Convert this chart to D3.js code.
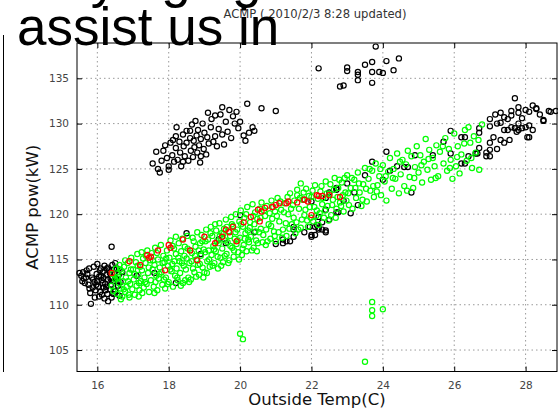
<!DOCTYPE html>
<html>
<head>
<meta charset="utf-8">
<script src="https://cdn.jsdelivr.net/npm/d3@7"></script>
<style>
  body { margin: 0; background: #fff; }
  svg { display: block; }
</style>
</head>
<body>
<script>
// tick values
const xTicks = [16, 18, 20, 22, 24, 26, 28];
const yTicks = [105, 110, 115, 120, 125, 130, 135];

const chartTitle = "ACMP ( 2010/2/3 8:28 updated)";
const xLabel = "Outside Temp(C)";
const yLabel = "ACMP pow(kW)";

// [temp, kW]
const blackPts = [
  // left group
  [15.5,113.5],[15.55,113.2],[15.6,113.6],[15.62,112.9],[15.7,113.8],[15.75,112.2],[15.78,111.8],[15.8,111.3],[15.82,110.1],[15.85,113.0],
  [15.9,114.2],[15.92,112.5],[15.95,111.6],[15.98,113.4],[16.0,114.5],[16.02,112.0],[16.05,113.1],[16.05,110.9],[16.08,111.4],[16.1,114.0],
  [16.12,112.7],[16.15,113.6],[16.18,111.9],[16.2,110.7],[16.2,114.3],[16.22,112.3],[16.25,113.3],[16.28,111.2],[16.3,114.1],[16.3,112.8],
  [16.33,113.8],[16.35,111.7],[16.38,112.2],[16.4,113.0],[16.4,110.8],[16.42,114.4],[16.45,112.6],[16.48,113.5],[16.5,111.5],[16.52,112.9],
  [16.55,114.0],[16.58,112.1],[16.6,113.3],[16.62,111.0],[16.65,112.5],[15.65,112.4],[15.88,112.8],[16.0,112.6],[16.1,113.2],[16.25,112.0],
  [16.35,113.5],[16.15,112.4],[15.72,113.4],[16.45,111.2],[16.4,116.4],[16.5,114.6],[16.7,113.6],[16.3,110.4],
  [15.58,112.6],[15.68,113.0],[15.77,114.0],[15.87,111.9],[15.97,112.2],[16.07,113.8],[16.17,113.0],[16.27,114.0],[16.37,112.9],[16.47,113.9],
  [16.57,112.6],[16.13,111.1],[15.93,110.8],[16.23,111.6],
  // upper middle group
  [17.55,125.6],[17.65,126.9],[17.7,125.0],[17.75,124.6],[17.85,127.0],[17.9,127.6],[17.95,126.2],[18.0,125.3],[18.0,124.9],[18.05,127.9],
  [18.1,126.5],[18.12,128.2],[18.15,125.8],[18.2,127.3],[18.22,129.6],[18.25,126.0],[18.3,128.0],[18.32,126.8],[18.35,125.3],[18.4,128.8],
  [18.42,127.5],[18.45,126.4],[18.5,129.2],[18.5,127.9],[18.55,125.9],[18.6,128.4],[18.62,127.0],[18.65,129.9],[18.68,126.3],[18.7,128.1],
  [18.72,127.4],[18.75,130.3],[18.78,128.7],[18.8,126.8],[18.82,129.3],[18.85,127.6],[18.88,125.7],[18.9,128.3],[18.95,130.0],[18.98,127.2],
  [19.0,129.0],[19.05,126.6],[19.08,128.5],[19.1,131.2],[19.12,127.8],[19.18,129.6],[19.2,130.5],[19.25,128.0],[19.3,130.9],[19.35,127.5],
  [19.4,129.4],[19.45,131.0],[19.5,128.8],[19.55,127.7],[19.6,130.2],[19.65,129.1],[19.7,131.5],[19.75,128.4],[19.8,130.8],[19.85,130.0],
  [19.9,131.3],[19.95,129.5],[20.0,130.2],[20.1,128.7],[20.15,128.1],[20.2,132.2],[20.25,129.0],[20.35,129.6],[20.4,129.2],[20.6,131.7],
  [21.0,131.4],[19.5,131.8],[18.6,129.2],[18.4,125.8],[18.9,126.4],[19.3,128.6],[18.2,128.6],[17.8,125.9],
  // top group
  [22.2,136.1],[23.8,138.5],[23.0,136.2],[23.0,135.8],[23.3,135.7],[23.5,136.5],[23.7,136.8],[23.7,135.7],[24.1,136.9],[24.3,135.9],
  [23.9,135.7],[24.0,135.6],[24.45,137.2],[23.3,135.4],[23.3,134.8],[22.8,134.1],[22.9,134.2],[23.7,134.5],
  // in the band
  [18.2,112.4],[18.5,117.9],[20.0,119.9],[19.6,116.8],[17.1,113.2],[17.6,113.5],[18.9,115.6],[19.4,117.2],[20.4,118.0],
  [21.0,116.7],[21.2,116.8],[21.4,117.0],[21.2,117.2],[21.3,117.0],[21.5,117.5],[21.8,118.0],[22.0,117.7],[22.1,118.6],[22.2,118.3],
  [22.3,118.3],[22.4,118.0],[22.2,119.7],[21.8,121.6],[22.0,121.4],[22.4,121.8],[21.5,118.3],[21.95,118.6],[22.0,117.5],[22.1,117.7],
  [22.3,119.1],[22.4,120.5],[22.7,120.2],[22.75,120.2],[23.1,120.1],[22.5,119.4],[22.15,118.8],[22.2,118.5],[22.4,118.2],[21.5,118.6],
  [22.5,122.4],[22.7,122.7],[22.7,122.9],[23.2,122.4],[23.0,123.4],[23.5,124.3],[23.7,125.8],[24.1,126.9],[24.0,123.8],[24.2,124.8],
  [24.4,125.3],[24.6,125.2],[24.7,125.2],[24.9,126.5],[25.4,126.5],[25.9,126.7],[26.3,125.6],[26.6,126.7],[27.0,126.4],[26.2,125.6],
  [26.2,128.5],[26.7,129.0],[25.9,129.2],[25.7,128.0],[26.3,128.5],[27.2,127.2],[24.8,122.4],[23.3,121.0],[22.9,121.5],
  // right group
  [27.7,132.8],[28.65,131.4],[28.3,131.6],[28.1,131.3],[27.8,131.2],[27.6,130.9],[27.4,130.7],[27.0,130.5],[26.7,129.5],[27.0,129.7],
  [27.3,130.1],[27.4,129.3],[27.8,129.3],[28.0,129.6],[28.2,129.3],[28.5,130.4],[28.85,131.4],[28.1,129.8],[27.0,127.9],[27.55,128.2],
  [28.05,128.5],[27.7,129.5],[27.1,128.5],[27.3,128.2],[27.0,127.1],[26.4,126.4],[26.65,126.7],[26.9,126.8],[26.7,127.3],[27.3,131.2],
  [28.0,131.5],[27.8,131.8],[28.3,131.7],[27.6,129.6],[27.5,129.3],[27.9,129.5],[27.8,130.0],[27.2,130.0],[28.7,131.3],[28.5,130.3],
  [28.1,128.5],[27.75,129.1],[27.4,127.9],[26.9,126.4],[27.5,130.5],[28.4,131.0],[27.9,130.6],[27.15,131.0],[28.2,132.0],[27.6,131.4]
];

const redPts = [
  [16.4,113.5],[16.9,114.8],[17.2,114.4],[17.4,115.5],[17.45,115.2],[17.5,115.3],[17.7,116.0],[18.0,116.6],[18.05,116.3],[18.4,117.2],
  [18.6,116.0],[19.0,117.5],[19.3,116.8],[19.5,117.5],[19.6,118.3],[19.7,118.0],[19.8,118.6],[20.1,119.1],[20.3,119.7],[20.5,120.5],
  [20.55,119.2],[20.6,120.3],[20.7,120.7],[20.9,120.8],[21.0,121.0],[21.1,121.2],[21.3,121.2],[21.35,121.4],[21.6,121.3],[21.8,121.6],
  [21.9,121.4],[22.0,119.9],[22.15,122.1],[22.2,122.0],[22.3,122.0],[22.5,122.1],[22.8,121.9],[18.8,114.9],[19.9,117.0],[17.9,113.8]
];

const greenPts = [
  [16.4,112.1],[16.42,113.4],[16.45,111.5],[16.5,112.8],[16.52,114.0],[16.55,111.2],[16.58,113.1],[16.6,112.4],[16.62,114.4],[16.65,111.8],
  [16.68,113.7],[16.7,110.9],[16.72,112.6],[16.75,114.2],[16.78,111.4],[16.8,113.0],[16.82,112.0],[16.85,114.6],[16.88,111.1],[16.9,113.5],
  [16.92,112.3],[16.95,115.2],[16.98,111.7],
  [16.56,112.9],[16.64,113.9],[16.74,111.7],[16.86,112.6],[16.94,113.9],[16.66,110.6],[16.78,114.9],[16.9,110.8],
  [17.0,113.9],[17.02,112.8],[17.05,111.1],[17.08,114.7],[17.1,112.1],[17.12,115.6],[17.15,113.3],[17.18,111.6],[17.2,114.2],[17.22,112.6],
  [17.25,113.8],[17.28,115.1],[17.3,111.9],[17.32,113.0],[17.35,114.6],[17.38,112.3],[17.4,116.0],[17.42,113.5],[17.45,111.4],[17.48,114.9],
  [17.5,112.7],
  [17.04,113.4],[17.13,114.3],[17.17,112.4],[17.26,111.3],[17.34,112.5],[17.36,115.4],[17.44,114.1],[17.24,115.8],[17.16,110.9],
  [17.52,115.7],[17.55,113.9],[17.58,112.0],[17.6,114.4],[17.62,116.3],[17.65,113.2],[17.68,111.6],[17.7,115.0],[17.72,112.9],[17.75,114.1],
  [17.78,116.6],[17.8,113.6],[17.82,112.2],[17.85,115.4],[17.88,114.7],[17.9,111.8],[17.92,113.0],[17.95,116.0],[17.98,114.3],
  [17.56,114.9],[17.63,112.5],[17.67,115.7],[17.74,113.4],[17.83,114.6],[17.87,112.8],[17.93,115.1],[17.97,112.3],[17.6,111.3],
  [18.0,112.5],[18.02,115.2],[18.05,117.1],[18.08,113.7],[18.1,114.5],[18.12,112.0],[18.15,116.2],[18.18,113.2],[18.2,115.6],[18.22,114.0],
  [18.25,112.7],[18.28,116.8],[18.3,114.8],[18.32,113.5],[18.35,115.9],[18.38,117.3],[18.4,112.4],[18.42,114.3],[18.45,116.4],[18.48,113.9],
  [18.04,113.9],[18.11,116.5],[18.16,114.8],[18.24,113.0],[18.27,115.2],[18.34,112.1],[18.37,114.6],[18.44,115.4],[18.46,112.7],[18.2,117.5],
  [18.5,115.1],[18.52,117.6],[18.55,113.0],[18.58,114.6],[18.6,116.0],[18.62,112.8],[18.65,115.7],[18.68,114.0],[18.7,117.0],[18.72,113.6],
  [18.75,116.4],[18.78,115.0],[18.8,118.0],[18.82,114.4],[18.85,113.3],[18.88,116.8],[18.9,115.4],[18.92,117.7],[18.95,114.1],[18.98,116.1],
  [18.53,116.2],[18.57,112.5],[18.64,114.8],[18.67,117.4],[18.74,115.4],[18.77,113.1],[18.84,116.0],[18.87,114.5],[18.94,117.0],[18.97,113.0],
  [19.0,113.6],[19.02,115.8],[19.05,118.3],[19.08,114.8],[19.1,117.2],[19.12,116.0],[19.15,114.2],[19.18,118.6],[19.2,115.5],[19.22,117.6],
  [19.25,116.5],[19.28,114.6],[19.3,118.9],[19.32,115.9],[19.35,117.0],[19.38,114.0],[19.4,116.8],[19.42,119.0],[19.45,115.2],[19.48,117.9],
  [19.03,117.0],[19.07,113.5],[19.13,115.0],[19.17,117.9],[19.23,114.3],[19.27,116.1],[19.33,118.2],[19.37,115.3],[19.43,117.6],[19.47,114.3],
  [19.5,116.2],[19.52,114.7],[19.55,118.4],[19.58,117.1],[19.6,119.4],[19.62,115.6],[19.65,116.9],[19.68,118.1],[19.7,114.9],[19.72,117.6],
  [19.75,119.7],[19.78,116.3],[19.8,118.7],[19.82,115.3],[19.85,117.3],[19.88,120.0],[19.9,116.7],[19.92,118.3],[19.95,115.8],[19.98,119.2],
  [19.53,117.8],[19.57,115.4],[19.63,118.6],[19.67,114.6],[19.73,116.5],[19.77,118.9],[19.83,116.0],[19.87,118.0],[19.93,117.1],[19.97,115.0],
  [20.0,117.4],[20.02,120.4],[20.05,115.5],[20.08,118.6],[20.1,116.6],[20.12,119.6],[20.15,117.9],[20.18,115.9],[20.2,120.8],[20.22,118.2],
  [20.25,116.9],[20.28,119.1],[20.3,117.5],[20.35,121.1],[20.38,116.3],[20.4,118.9],[20.42,120.2],[20.45,117.1],[20.48,119.5],
  [20.03,118.9],[20.07,116.2],[20.13,117.3],[20.17,120.0],[20.23,117.2],[20.27,118.5],[20.33,116.0],[20.37,119.8],[20.43,118.1],[20.47,115.9],
  [20.5,116.8],[20.55,120.6],[20.58,118.4],[20.6,121.3],[20.65,117.7],[20.7,119.8],[20.72,116.6],[20.75,120.9],[20.8,118.9],[20.85,117.3],
  [20.88,121.5],[20.9,119.5],[20.95,118.1],[20.98,120.3],
  [20.53,118.0],[20.57,119.6],[20.63,116.9],[20.67,120.4],[20.73,118.3],[20.77,117.0],[20.83,120.1],[20.87,118.7],[20.93,120.8],[20.97,117.6],
  [21.0,117.0],[21.05,121.8],[21.1,119.2],[21.15,120.5],[21.2,118.3],[21.25,121.2],[21.3,117.6],[21.35,120.0],[21.4,122.3],[21.45,118.9],
  [21.48,121.0],[21.5,119.6],[21.55,117.9],[21.6,122.1],[21.65,120.6],[21.7,118.5],[21.75,121.6],[21.8,119.9],[21.85,122.8],[21.9,118.6],
  [21.95,120.8],[21.6,122.7],[21.7,123.4],
  [21.03,119.8],[21.08,118.0],[21.13,121.4],[21.18,117.4],[21.23,120.2],[21.28,119.0],[21.33,121.9],[21.38,118.4],[21.43,120.6],[21.52,121.5],
  [21.58,119.1],[21.63,118.3],[21.68,121.8],[21.73,119.4],[21.78,122.4],[21.83,120.5],[21.88,119.3],[21.93,122.0],[21.98,119.6],
  [22.0,121.9],[22.05,119.2],[22.1,123.2],[22.15,120.4],[22.2,118.8],[22.25,122.5],[22.3,121.1],[22.35,119.6],[22.4,123.6],[22.45,120.9],
  [22.5,122.2],[22.55,119.9],[22.6,121.6],[22.65,124.0],[22.7,120.6],[22.75,122.9],[22.8,121.3],[22.85,123.5],[22.9,120.3],[22.95,122.4],
  [22.03,122.6],[22.08,120.8],[22.13,119.8],[22.18,121.7],[22.23,120.1],[22.28,123.1],[22.33,121.8],[22.38,120.4],[22.43,122.3],[22.48,119.3],
  [22.53,123.3],[22.58,121.0],[22.63,122.7],[22.68,119.6],[22.73,121.9],[22.78,123.8],[22.83,120.9],[22.88,122.1],[22.93,124.0],[22.98,121.5],
  [23.0,124.3],[23.05,121.0],[23.1,122.9],[23.15,120.6],[23.2,123.8],[23.25,121.8],[23.3,124.6],[23.35,122.4],[23.4,120.9],[23.45,123.3],
  [23.5,125.1],[23.55,121.4],[23.6,123.9],[23.65,122.6],[23.7,124.8],[23.75,121.9],[23.8,125.6],[23.85,123.2],[23.9,124.2],[23.95,122.1],
  [23.03,122.3],[23.13,124.0],[23.23,122.9],[23.33,123.4],[23.43,121.6],[23.53,122.8],[23.63,125.0],[23.73,123.1],[23.83,122.5],[23.93,125.0],
  [24.0,125.4],[24.05,123.6],[24.1,121.5],[24.15,124.7],[24.2,126.2],[24.25,122.8],[24.3,125.0],[24.35,123.9],[24.4,126.7],[24.45,122.3],
  [24.5,124.4],[24.55,126.0],[24.6,123.1],[24.65,125.5],[24.7,127.0],[24.75,124.1],[24.8,126.4],[24.85,122.9],[24.9,125.2],[24.95,127.5],
  [25.0,124.6],[25.05,126.5],[25.1,123.5],[25.15,125.8],[25.2,128.3],[25.25,124.9],[25.3,127.1],[25.35,123.8],[25.4,126.2],[25.45,125.3],
  [25.5,127.6],[25.55,124.2],[25.6,126.9],[25.7,125.6],[25.75,128.4],[25.8,124.8],[25.85,127.2],[25.9,126.0],[25.95,123.9],
  [26.0,128.9],[26.05,125.3],[26.1,127.5],[26.15,124.5],[26.2,126.6],[26.3,129.3],[26.35,125.9],[26.4,129.6],[26.45,127.9],[26.5,125.1],
  [26.55,128.6],[26.6,126.8],[26.7,124.9],[26.78,129.9],
  [24.08,124.2],[24.28,124.0],[24.48,125.8],[24.68,122.6],[24.88,124.0],[25.08,125.4],[25.28,126.1],[25.48,124.0],[25.68,127.5],[25.88,125.1],
  [26.08,126.3],[26.28,127.8],[26.48,126.2],[26.68,128.2],
  // outliers
  [20.0,106.8],[20.08,106.2],[23.7,110.3],[23.7,109.4],[23.7,108.75],[24.0,109.5],[23.5,103.7]
];

const width = 558, height = 412;
const plotLeft = 77, plotRight = 557, plotTop = 43, plotBottom = 371.5;

const svg = d3.select("body").append("svg")
  .attr("width", width)
  .attr("height", height)
  .style("font-family", "'DejaVu Sans', sans-serif");

const x = d3.scaleLinear().domain([15.43, 28.88]).range([plotLeft, plotRight]);
const y = d3.scaleLinear().domain([102.63, 138.9]).range([plotBottom, plotTop]);

// dotted grid
svg.append("g").selectAll("line").data(xTicks).join("line")
  .attr("x1", d => x(d)).attr("x2", d => x(d))
  .attr("y1", plotTop).attr("y2", plotBottom)
  .attr("stroke", "#9a9a9a").attr("stroke-dasharray", "1.5,3");
svg.append("g").selectAll("line").data(yTicks).join("line")
  .attr("y1", d => y(d)).attr("y2", d => y(d))
  .attr("x1", plotLeft).attr("x2", plotRight)
  .attr("stroke", "#9a9a9a").attr("stroke-dasharray", "1.5,3");

// points: black, green, then red so the red ones stay visible
function drawPts(data, color) {
  svg.append("g").selectAll("circle").data(data).join("circle")
    .attr("cx", d => x(d[0]))
    .attr("cy", d => y(d[1]))
    .attr("r", 2.6)
    .attr("fill", "none")
    .attr("stroke", color)
    .attr("stroke-width", 1.2);
}
drawPts(blackPts, "#000");
drawPts(greenPts, "#00ff00");
drawPts(redPts, "#ff0000");

// axes with inward ticks
svg.append("g")
  .attr("transform", "translate(0," + plotBottom + ")")
  .call(d3.axisBottom(x).tickValues(xTicks).tickSize(-5).tickPadding(10));
svg.append("g")
  .attr("transform", "translate(" + plotLeft + ",0)")
  .call(d3.axisLeft(y).tickValues(yTicks).tickSize(-5).tickPadding(8));
svg.append("g")
  .attr("transform", "translate(" + plotRight + ",0)")
  .call(d3.axisRight(y).tickValues(yTicks).tickSize(-5).tickFormat(""));
svg.append("g")
  .attr("transform", "translate(0," + plotTop + ")")
  .call(d3.axisTop(x).tickValues(xTicks).tickSize(-5).tickFormat(""));

svg.selectAll(".domain").remove();
svg.selectAll(".tick line").attr("stroke", "#000");
svg.selectAll(".tick text")
  .attr("font-size", "10.5px")
  .attr("font-family", "'DejaVu Sans', sans-serif")
  .attr("fill", "#444");

// border
svg.append("rect")
  .attr("x", plotLeft).attr("y", plotTop)
  .attr("width", plotRight - plotLeft).attr("height", plotBottom - plotTop)
  .attr("fill", "none").attr("stroke", "#000");

// title and labels
svg.append("text")
  .attr("x", 315).attr("y", 18)
  .attr("text-anchor", "middle")
  .attr("font-size", "11.6px")
  .attr("fill", "#333")
  .text(chartTitle);

svg.append("text")
  .attr("x", (plotLeft + plotRight) / 2).attr("y", 405)
  .attr("text-anchor", "middle")
  .attr("font-size", "16.5px")
  .attr("fill", "#111")
  .text(xLabel);

svg.append("text")
  .attr("transform", "translate(38," + (plotTop + plotBottom) / 2 + ") rotate(-90)")
  .attr("text-anchor", "middle")
  .attr("font-size", "16.5px")
  .attr("fill", "#111")
  .text(yLabel);

// page frame line and overlapping page text
svg.append("line")
  .attr("x1", 3.5).attr("x2", 3.5).attr("y1", 35).attr("y2", 372)
  .attr("stroke", "#000");

svg.append("text")
  .attr("x", 17).attr("y", -3)
  .attr("font-family", "'Liberation Sans', Arial, sans-serif")
  .attr("font-size", "53px")
  .attr("fill", "#000")
  .text("may aging");

svg.append("text")
  .attr("x", 17).attr("y", 45)
  .attr("font-family", "'Liberation Sans', Arial, sans-serif")
  .attr("font-size", "53px")
  .attr("fill", "#000")
  .text("assist us in");
</script>
</body>
</html>
